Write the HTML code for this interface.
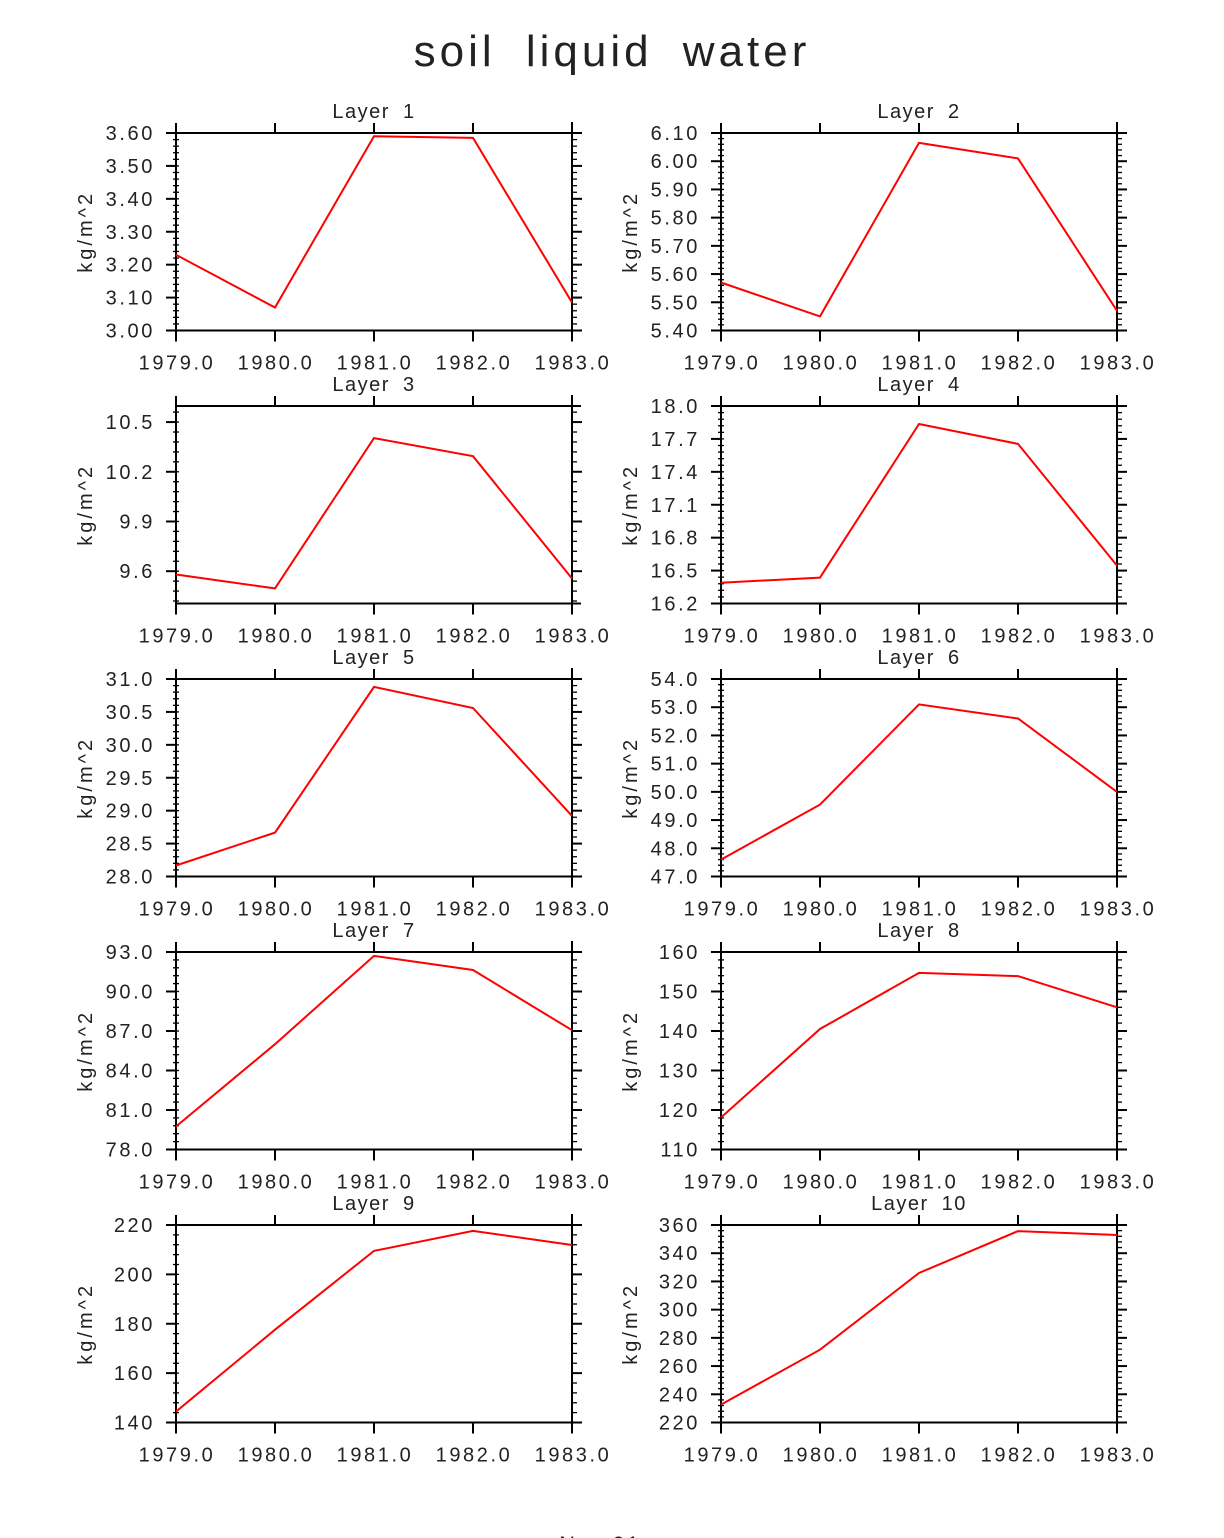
<!DOCTYPE html>
<html><head><meta charset="utf-8"><style>
html,body{margin:0;padding:0;background:#fff;overflow:hidden}
svg{display:block}
text{font-family:"Liberation Sans",sans-serif;fill:#222}
</style></head><body>
<svg id="c" width="1224" height="1538">
<text x="612" y="66" text-anchor="middle" font-size="44" letter-spacing="4" word-spacing="14">soil liquid water</text>
<text x="600" y="1552" text-anchor="middle" font-size="22" letter-spacing="2">Nov 01</text>
</svg>
<script>
const years = [1979, 1980, 1981, 1982, 1983];
const xTickLabels = ["1979.0","1980.0","1981.0","1982.0","1983.0"];
const layerTitles = ["Layer 1","Layer 2","Layer 3","Layer 4","Layer 5","Layer 6","Layer 7","Layer 8","Layer 9","Layer 10"];
const layer1 = [3.23, 3.07, 3.59, 3.585, 3.085];
const layer2 = [5.57, 5.45, 6.065, 6.01, 5.47];
const layer3 = [9.58, 9.496, 10.403, 10.294, 9.556];
const layer4 = [16.39, 16.436, 17.836, 17.655, 16.545];
const layer5 = [28.167, 28.667, 30.88, 30.56, 28.92];
const layer6 = [47.6, 49.55, 53.1, 52.6, 50.0];
const layer7 = [79.75, 86.0, 92.7, 91.63, 87.06];
const layer8 = [118.1, 140.5, 154.7, 153.9, 146.0];
const layer9 = [144.4, 177.6, 209.5, 217.6, 211.9];
const layer10 = [232.7, 271.6, 326, 355.7, 352.9];
const yMins = [3.0, 5.4, 9.405, 16.2, 28, 47, 78, 110, 140, 220];
const yMaxs = [3.6, 6.1, 10.597, 18.0, 31, 54, 93, 160, 220, 360];
const yTickStarts = [3.0, 5.4, 9.6, 16.2, 28, 47, 78, 110, 140, 220];
const yTickSteps = [0.1, 0.1, 0.3, 0.3, 0.5, 1.0, 3.0, 10, 20, 20];
const yDecimals = [2, 2, 1, 1, 1, 1, 1, 0, 0, 0];
const series = [layer1,layer2,layer3,layer4,layer5,layer6,layer7,layer8,layer9,layer10];

const svg = document.getElementById('c');
const NS = 'http://www.w3.org/2000/svg';
function mk(tag, attrs, parent){const e=document.createElementNS(NS,tag);for(const k in attrs)e.setAttribute(k,attrs[k]);(parent||svg).appendChild(e);return e;}

for (let i = 0; i < 10; i++) {
  const col = i % 2, row = Math.floor(i / 2);
  const L = col ? 721 : 176, R = L + 396, top = 133 + row * 273, bot = top + 197.5;
  const g = mk('g', {});
  
  
  const xs = v => L + (v - years[0]) / (years[4] - years[0]) * (R - L);
  const ys = v => bot - (v - yMins[i]) / (yMaxs[i] - yMins[i]) * (bot - top);
  const st = {stroke:'#000','stroke-width':2};
  mk('line', Object.assign({x1:L,y1:top,x2:R+9,y2:top}, st), g);
  mk('line', Object.assign({x1:L,y1:bot,x2:R+9,y2:bot}, st), g);
  mk('line', Object.assign({x1:L,y1:top,x2:L,y2:bot}, st), g);
  mk('line', Object.assign({x1:R,y1:top-11,x2:R,y2:bot+11}, st), g);
  years.forEach((yr, k) => {
    const x = xs(yr);
    mk('line', Object.assign({x1:x,y1:top-10,x2:x,y2:top}, st), g);
    mk('line', Object.assign({x1:x,y1:bot,x2:x,y2:bot+11}, st), g);
    const t = mk('text', {x:x+1, y:bot+39, 'text-anchor':'middle', 'font-size':20, 'letter-spacing':2.6, fill:'#333'}, g);
    t.textContent = xTickLabels[k];
    
    
  });
  const step = yTickSteps[i];
  for (let v = yTickStarts[i]; v <= yMaxs[i] + 1e-9; v += step) {
    const y = ys(v);
    mk('line', Object.assign({x1:L-10,y1:y,x2:L,y2:y}, st), g);
    mk('line', Object.assign({x1:R,y1:y,x2:R+10,y2:y}, st), g);
    const t = mk('text', {x:L-21, y:y+7, 'text-anchor':'end', 'font-size':20, 'letter-spacing':2.6, fill:'#333'}, g);
    t.textContent = v.toFixed(yDecimals[i]);
    
    
  }
  const minor = step / 5;
  const mst = {stroke:'#000','stroke-width':1.3};
  for (let v = yTickStarts[i] - step; v <= yMaxs[i] + 1e-9; v += minor) {
    if (v < yMins[i] - 1e-9) continue;
    const y = ys(v);
    mk('line', Object.assign({x1:L-3,y1:y,x2:L+3,y2:y}, mst), g);
    mk('line', Object.assign({x1:R,y1:y,x2:R+5,y2:y}, mst), g);
  }
  const tt = mk('text', {x:(L+R)/2, y:top-15, 'text-anchor':'middle', 'font-size':20, 'letter-spacing':1.5, 'word-spacing':6, fill:'#222'}, g);
  tt.textContent = layerTitles[i];
  
  
  const lx = col ? 637 : 92;
  const yl = mk('text', {x:lx, y:(top+bot)/2, 'text-anchor':'middle', 'font-size':20, 'letter-spacing':3, fill:'#222', transform:`rotate(-90 ${lx} ${(top+bot)/2})`}, g);
  yl.textContent = 'kg/m^2';
  
  
  const pts = series[i].map((v, k) => xs(years[k]).toFixed(1) + ',' + ys(v).toFixed(1)).join(' ');
  const pl = mk('polyline', {points:pts, fill:'none', stroke:'#f00', 'stroke-width':2}, g);
  
  
}
</script>
</body></html>
